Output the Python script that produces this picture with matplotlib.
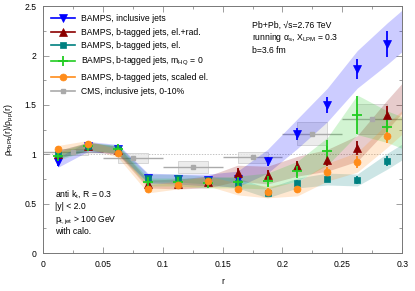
import numpy as np
import matplotlib.pyplot as plt
from matplotlib.ticker import MultipleLocator

# bin centres (r)
r = [0.0125, 0.0375, 0.0625, 0.0875, 0.1125, 0.1375,
     0.1625, 0.1875, 0.2125, 0.2375, 0.2625, 0.2875]

# BAMPS, inclusive jets
incl = [0.92, 1.08, 1.05, 0.76, 0.75, 0.74, 0.75, 0.93, 1.21, 1.50, 1.86, 2.12]
incl_err = [0.04, 0.03, 0.03, 0.03, 0.03, 0.03, 0.04, 0.045, 0.06, 0.08, 0.10, 0.13]
incl_band = [0.05, 0.05, 0.05, 0.05, 0.05, 0.06, 0.08, 0.12, 0.15, 0.17, 0.19, 0.21]

# BAMPS, b-tagged jets, el.+rad.
elrad = [1.00, 1.08, 1.04, 0.70, 0.70, 0.72, 0.81, 0.79, 0.88, 0.94, 1.06, 1.40]
elrad_err = [0.03, 0.03, 0.03, 0.03, 0.03, 0.03, 0.05, 0.05, 0.05, 0.06, 0.07, 0.09]
elrad_band = [0.04, 0.04, 0.04, 0.04, 0.05, 0.06, 0.08, 0.09, 0.10, 0.11, 0.13, 0.15]

# BAMPS, b-tagged jets, el.
el = [1.00, 1.08, 1.05, 0.76, 0.76, 0.74, 0.71, 0.61, 0.71, 0.75, 0.74, 0.93]
el_err = [0.03, 0.03, 0.03, 0.03, 0.03, 0.03, 0.03, 0.03, 0.03, 0.03, 0.04, 0.05]
el_band = [0.04, 0.04, 0.04, 0.04, 0.04, 0.04, 0.05, 0.05, 0.05, 0.06, 0.06, 0.08]

# BAMPS, b-tagged jets, m_HQ = 0
mhq0 = [0.98, 1.08, 1.05, 0.72, 0.72, 0.71, 0.72, 0.73, 0.83, 1.03, 1.40, 1.28]
mhq0_err = [0.04, 0.03, 0.03, 0.03, 0.03, 0.03, 0.05, 0.06, 0.07, 0.12, 0.19, 0.14]
mhq0_band = [0.04, 0.04, 0.04, 0.04, 0.04, 0.05, 0.06, 0.08, 0.10, 0.14, 0.20, 0.16]

# BAMPS, b-tagged jets, scaled el.
scaled = [1.05, 1.10, 1.01, 0.65, 0.69, 0.73, 0.65, 0.62, 0.65, 0.82, 0.92, 1.19]
scaled_err = [0.03, 0.03, 0.03, 0.03, 0.03, 0.03, 0.04, 0.04, 0.04, 0.05, 0.06, 0.08]
scaled_band = [0.04, 0.04, 0.04, 0.04, 0.04, 0.05, 0.06, 0.06, 0.07, 0.09, 0.10, 0.12]

# CMS, inclusive jets, 0-10%
cms_r = [0.025, 0.075, 0.125, 0.175, 0.225, 0.275]
cms = [1.02, 0.96, 0.87, 0.97, 1.21, 1.36]
cms_sys = [0.03, 0.05, 0.06, 0.055, 0.115, 0.15]

xticks = [0, 0.05, 0.1, 0.15, 0.2, 0.25, 0.3]
xtick_labels = ['0', '0.05', '0.1', '0.15', '0.2', '0.25', '0.3']
yticks = [0, 0.5, 1, 1.5, 2, 2.5]
ytick_labels = ['0', '0.5', '1', '1.5', '2', '2.5']

plt.rcParams['font.family'] = ['Liberation Sans', 'DejaVu Sans']
plt.rcParams['mathtext.fontset'] = 'custom'
plt.rcParams['mathtext.rm'] = 'Liberation Sans'
plt.rcParams['mathtext.it'] = 'Liberation Sans'
fs = 6.2

fig = plt.figure(figsize=(4.15, 2.91), dpi=100)
ax = fig.add_axes([0.104, 0.13, 0.865, 0.849])

ax.axhline(1.0, color='#aaaaaa', linestyle=(0, (2, 2)), linewidth=0.5, zorder=0)

# CMS systematic boxes and points
for x, y, s in zip(cms_r, cms, cms_sys):
    ax.add_patch(plt.Rectangle((x - 0.0125, y - s), 0.025, 2 * s,
                               facecolor='#e8e8e8', edgecolor='#c8c8c8',
                               linewidth=0.6, alpha=0.8, zorder=1))
ax.errorbar(cms_r, cms, xerr=0.025, fmt='s', color='#aaaaaa', ms=3,
            elinewidth=1.0, capsize=0, zorder=2)

series = [
    (incl, incl_err, incl_band, '#0000ff', 'v', 'BAMPS, inclusive jets'),
    (elrad, elrad_err, elrad_band, '#8b0000', '^', 'BAMPS, b-tagged jets, el.+rad.'),
    (el, el_err, el_band, '#008080', 's', 'BAMPS, b-tagged jets, el.'),
    (mhq0, mhq0_err, mhq0_band, '#22cc22', '+', 'BAMPS, b-tagged jets, m$_{\\mathrm{HQ}}$ = 0'),
    (scaled, scaled_err, scaled_band, '#ff8c1a', 'o', 'BAMPS, b-tagged jets, scaled el.'),
]

leg_handles = []
for y, e, b, c, m, lab in series:
    y = np.array(y)
    b = np.array(b)
    # extend band to the right edge
    xb = np.append(r, 0.3)
    yb = np.append(y, y[-1] + (y[-1] - y[-2]) * 0.5)
    bb = np.append(b, b[-1])
    ax.fill_between(xb, yb - bb, yb + bb, color=c, alpha=0.2, linewidth=0, zorder=2)
    ms = 7 if m == '+' else (5 if m in 'so' else 5.5)
    mew = 1.3 if m == '+' else 0.5
    ax.errorbar(r, y, yerr=e, fmt=m, color=c, ms=ms, mew=mew,
                elinewidth=1.3, capsize=0, zorder=4)
    leg_handles.append(ax.plot([], [], color=c, marker=m, ms=ms, mew=mew,
                               linewidth=1.2)[0])

leg_handles.append(ax.plot([], [], color='#aaaaaa', marker='s', ms=3, linewidth=1.2)[0])
labels = [s[5] for s in series] + ['CMS, inclusive jets, 0-10%']
ax.legend(leg_handles, labels, loc='upper left', frameon=False, fontsize=fs,
          handlelength=2.8, handletextpad=0.7, labelspacing=0.55,
          bbox_to_anchor=(0.0, 1.0))

ax.text(0.1747, 2.31, 'Pb+Pb, √s=2.76 TeV', fontsize=fs, va='center')
ax.text(0.1747, 2.18, 'running $\\alpha_s$, X$_{\\mathrm{LPM}}$ = 0.3', fontsize=fs, va='center')
ax.text(0.1747, 2.05, 'b=3.6 fm', fontsize=fs, va='center')

ax.text(0.010, 0.60, 'anti k$_t$, R = 0.3', fontsize=fs, va='center')
ax.text(0.010, 0.47, '|y| < 2.0', fontsize=fs, va='center')
ax.text(0.010, 0.33, 'p$_{\\mathrm{t,jet}}$ > 100 GeV', fontsize=fs, va='center')
ax.text(0.010, 0.215, 'with calo.', fontsize=fs, va='center')

ax.set_xlim(0, 0.3)
ax.set_ylim(0, 2.5)
ax.set_xticks(xticks)
ax.set_xticklabels(xtick_labels)
ax.set_yticks(yticks)
ax.set_yticklabels(ytick_labels)
ax.xaxis.set_minor_locator(MultipleLocator(0.025))
ax.yaxis.set_minor_locator(MultipleLocator(0.25))
ax.tick_params(which='both', direction='in', top=True, right=True,
               labelsize=fs, color='#777777', width=0.5)
ax.tick_params(which='major', length=4, pad=5)
ax.tick_params(which='minor', length=2)
for sp in ax.spines.values():
    sp.set_color('#777777')
    sp.set_linewidth(0.7)

ax.set_xlabel('r', fontsize=fs, labelpad=6)
ax.set_ylabel('$\\rho_{\\mathrm{PbPb}}$(r)/$\\rho_{\\mathrm{pp}}$(r)', fontsize=fs, labelpad=6)

fig.savefig('out.png', dpi=100)
